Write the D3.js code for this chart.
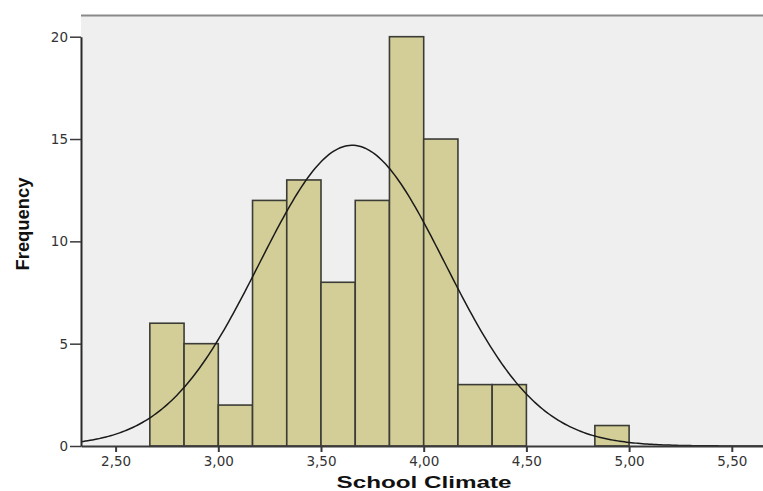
<!DOCTYPE html>
<html>
<head>
<meta charset="utf-8">
<script src="https://cdn.jsdelivr.net/npm/d3@7"></script>
<style>
  body { margin: 0; background: #fff; }
  svg { display: block; font-family: "Liberation Sans", Arial, sans-serif; }
</style>
</head>
<body>
<script>
const w = 763;
const h = 491;

// histogram bins (lower edge, upper edge) and counts
const binStarts = [2.6667, 2.8333, 3.0, 3.1667, 3.3333, 3.5, 3.6667, 3.8333, 4.0, 4.1667, 4.3333, 4.6667, 4.8333];
const binEnds   = [2.8333, 3.0, 3.1667, 3.3333, 3.5, 3.6667, 3.8333, 4.0, 4.1667, 4.3333, 4.5, 4.8333, 5.0];
const counts    = [6, 5, 2, 12, 13, 8, 12, 20, 15, 3, 3, 0, 1];
const xTicks = [2.5, 3.0, 3.5, 4.0, 4.5, 5.0, 5.5];
const yTicks = [0, 5, 10, 15, 20];

// fitted normal curve parameters
const fitMean = 3.652;
const fitSd = 0.4525;
const fitN = 100;
const binWidth = 1 / 6;

const plotLeft = 81, plotTop = 15, plotRight = 763, plotBottom = 446;

const xScale = d3.scaleLinear().domain([3.0, 3.5]).range([218.3, 321]);
xScale.domain([xScale.invert(plotLeft), xScale.invert(plotRight)]).range([plotLeft, plotRight]);
const yScale = d3.scaleLinear().domain([0, 20]).range([plotBottom, 36.7]);

const svg = d3.select("body").append("svg")
  .attr("width", w).attr("height", h);

svg.append("rect")
  .attr("x", plotLeft).attr("y", plotTop)
  .attr("width", plotRight - plotLeft).attr("height", plotBottom - plotTop)
  .attr("fill", "#efefef");

svg.append("line")
  .attr("x1", plotLeft).attr("x2", plotRight)
  .attr("y1", plotTop + 0.5).attr("y2", plotTop + 0.5)
  .attr("stroke", "#8a8a8a").attr("stroke-width", 2);

const bars = d3.range(counts.length).filter(i => counts[i] > 0);
svg.selectAll(".bar")
  .data(bars)
  .enter()
  .append("rect")
  .attr("class", "bar")
  .attr("x", i => xScale(binStarts[i]))
  .attr("y", i => yScale(counts[i]))
  .attr("width", i => xScale(binEnds[i]) - xScale(binStarts[i]))
  .attr("height", i => yScale(0) - yScale(counts[i]))
  .attr("fill", "#d3ce98")
  .attr("stroke", "#3c3c36")
  .attr("stroke-width", 1.6);

// normal curve
const dens = x => fitN * binWidth * Math.exp(-0.5 * Math.pow((x - fitMean) / fitSd, 2)) / (fitSd * Math.sqrt(2 * Math.PI));
const [x0, x1] = xScale.domain();
const curvePts = d3.range(0, 301).map(k => x0 + (x1 - x0) * k / 300);
svg.append("path")
  .datum(curvePts)
  .attr("fill", "none")
  .attr("stroke", "#1a1a1a")
  .attr("stroke-width", 1.5)
  .attr("d", d3.line().x(d => xScale(d)).y(d => yScale(dens(d))));

const fmt = d => d3.format(".2f")(d).replace(".", ",");

const xAxis = d3.axisBottom(xScale).tickValues(xTicks).tickFormat(fmt).tickSize(6).tickSizeOuter(0);
const gx = svg.append("g").attr("transform", "translate(0," + plotBottom + ")").call(xAxis);
gx.select(".domain").attr("stroke", "#3a3a3a").attr("stroke-width", 2);
gx.selectAll(".tick line").attr("stroke", "#3a3a3a").attr("stroke-width", 2);
gx.selectAll(".tick text").attr("y", 10).attr("font-size", 13.5).attr("fill", "#333")
  .attr("font-family", "DejaVu Sans, sans-serif").attr("dy", "0.71em");

const yAxis = d3.axisLeft(yScale).tickValues(yTicks).tickSize(11).tickSizeOuter(0);
const gy = svg.append("g").attr("transform", "translate(" + plotLeft + ",0)").call(yAxis);
gy.select(".domain").attr("stroke", "#2a2a2a").attr("stroke-width", 2);
gy.selectAll(".tick line").attr("stroke", "#3a3a3a").attr("stroke-width", 1.5);
gy.selectAll(".tick text").attr("font-size", 13.5).attr("fill", "#333")
  .attr("font-family", "DejaVu Sans, sans-serif").attr("x", -13);

svg.append("text")
  .text("School Climate")
  .attr("x", 424).attr("y", 488)
  .attr("text-anchor", "middle")
  .attr("font-weight", "bold")
  .attr("font-size", 16)
  .attr("textLength", 175)
  .attr("lengthAdjust", "spacingAndGlyphs")
  .attr("fill", "#111");

svg.append("text")
  .text("Frequency")
  .attr("transform", "translate(29,224) rotate(-90)")
  .attr("text-anchor", "middle")
  .attr("font-weight", "bold")
  .attr("font-size", 18)
  .attr("textLength", 93)
  .attr("lengthAdjust", "spacingAndGlyphs")
  .attr("fill", "#111");
</script>
</body>
</html>
